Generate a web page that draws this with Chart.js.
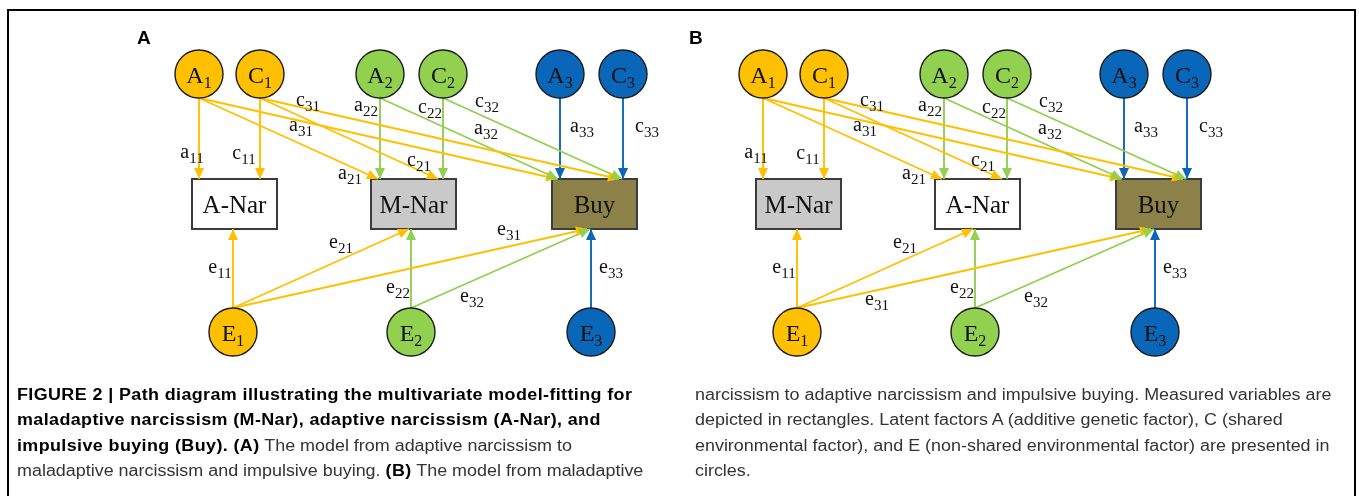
<!DOCTYPE html>
<html lang="en">
<head>
<meta charset="UTF-8">
<title>Figure 2 path diagram</title>
<script src="https://cdn.jsdelivr.net/npm/chart.js"></script>
<style>
  body { margin: 0; background: #fff; width: 1359px; height: 496px; overflow: hidden; position: relative;
         font-family: "Liberation Sans", Arial, sans-serif; }
  #frame { position: absolute; left: 7px; top: 9px; width: 1349px; height: 600px; box-sizing: border-box;
           border: 2px solid #000; border-bottom: none; }
  #diagram { position: absolute; left: 0; top: 0; }
  .panel { position: absolute; top: 27px; font-weight: bold; font-size: 19px; color: #000; }
  .caption { position: absolute; top: 382px; font-size: 16px; line-height: 25.3px; white-space: nowrap; color: #333;
             transform: scaleX(1.12); transform-origin: 0 0; }
  .caption b { color: #000; letter-spacing: 0.35px; }
</style>
</head>
<body>
<div id="frame"></div>
<canvas id="diagram" width="1359" height="496"></canvas>
<div class="panel" style="left:137px">A</div>
<div class="panel" style="left:689px">B</div>
<div class="caption" style="left:17px">
  <b>FIGURE 2 | Path diagram illustrating the multivariate model-fitting for</b><br>
  <b>maladaptive narcissism (M-Nar), adaptive narcissism (A-Nar), and</b><br>
  <b>impulsive buying (Buy). (A)</b> The model from adaptive narcissism to<br>
  maladaptive narcissism and impulsive buying. <b>(B)</b> The model from maladaptive
</div>
<div class="caption" style="left:695px">
  narcissism to adaptive narcissism and impulsive buying. Measured variables are<br>
  depicted in rectangles. Latent factors A (additive genetic factor), C (shared<br>
  environmental factor), and E (non-shared environmental factor) are presented in<br>
  circles.
</div>

<script>
// latent factors (panel A layout; panel B is the same layout shifted right)
const factorNames = ['A1', 'C1', 'A2', 'C2', 'A3', 'C3', 'E1', 'E2', 'E3'];
const factorX = [199, 260, 380, 443, 560, 623, 233, 411, 591];
const factorY = [74, 74, 74, 74, 74, 74, 332, 332, 332];
const factorGroup = [0, 0, 1, 1, 2, 2, 0, 1, 2];

// measured variables
const boxNamesA = ['A-Nar', 'M-Nar', 'Buy'];
const boxNamesB = ['M-Nar', 'A-Nar', 'Buy'];
const boxX = [234.5, 413.5, 594.5];
const boxY = 204;

const panelShift = [0, 564];

// paths: label, source factor, x where the arrow meets the box
const pathLabels = ['a11', 'c11', 'a21', 'c21', 'a31', 'c31', 'a22', 'c22', 'a32', 'c32', 'a33', 'c33',
                    'e11', 'e21', 'e31', 'e22', 'e32', 'e33'];
const pathFrom = [0, 1, 0, 1, 0, 1, 2, 3, 2, 3, 4, 5, 6, 6, 6, 7, 7, 8];
const pathEndX = [199, 260, 378, 438, 557, 619, 380, 443, 558, 622, 560, 623, 233, 409, 587, 411, 590, 591];
const labelX = [192, 244, 350, 419, 301, 308, 366, 430, 486, 487, 582, 647, 220, 341, 509, 398, 472, 611];
const labelY = [156, 157, 177, 164, 129, 104, 109, 111, 132, 105, 130, 130, 271, 246, 233, 291, 300, 271];
const labelMoveB = { e31: [313, 303] };

const palette = ['#FFC000', '#92D050', '#0A66B8'];
const boxFill = { 'A-Nar': '#ffffff', 'M-Nar': '#C9C9C9', 'Buy': '#8C8148' };
const R = 24, boxW = 85, boxH = 50;
const serif = '"Liberation Serif", "Times New Roman", serif';

const datasets = [];
panelShift.forEach(dx => {
  pathLabels.forEach((lab, i) => {
    const f = pathFrom[i];
    const down = factorY[f] < boxY;
    datasets.push({
      type: 'scatter',
      showLine: true,
      data: [
        { x: factorX[f] + dx, y: down ? factorY[f] + R : factorY[f] - R },
        { x: pathEndX[i] + dx, y: down ? boxY - boxH / 2 : boxY + boxH / 2 }
      ],
      borderColor: palette[factorGroup[f]],
      borderWidth: 1.9,
      pointRadius: 0,
      clip: false,
      order: 2
    });
  });
  datasets.push({
    type: 'scatter',
    data: factorNames.map((n, i) => ({ x: factorX[i] + dx, y: factorY[i] })),
    backgroundColor: factorGroup.map(g => palette[g]),
    borderColor: '#1b1b1b',
    borderWidth: 1.4,
    pointRadius: R,
    pointHoverRadius: R,
    clip: false,
    order: 0,
    isFactors: true
  });
});

function subText(ctx, main, sub, cx, base, mainPx, subPx, drop) {
  ctx.font = mainPx + 'px ' + serif;
  const w1 = ctx.measureText(main).width;
  ctx.font = subPx + 'px ' + serif;
  const w2 = ctx.measureText(sub).width;
  const left = cx - (w1 + w2) / 2;
  ctx.textAlign = 'left';
  ctx.textBaseline = 'alphabetic';
  ctx.fillStyle = '#111';
  ctx.font = mainPx + 'px ' + serif;
  ctx.fillText(main, left, base);
  ctx.font = subPx + 'px ' + serif;
  ctx.fillText(sub, left + w1, base + drop);
}

const diagramPlugin = {
  id: 'pathDiagram',
  beforeDatasetsDraw(chart) {
    const { ctx, scales: { x, y } } = chart;
    ctx.save();
    panelShift.forEach((dx, p) => {
      const names = p === 0 ? boxNamesA : boxNamesB;
      names.forEach((name, i) => {
        const l = x.getPixelForValue(boxX[i] + dx - boxW / 2);
        const r = x.getPixelForValue(boxX[i] + dx + boxW / 2);
        const t = y.getPixelForValue(boxY - boxH / 2);
        const b = y.getPixelForValue(boxY + boxH / 2);
        ctx.fillStyle = boxFill[name];
        ctx.fillRect(l, t, r - l, b - t);
        ctx.strokeStyle = '#3c3c3c';
        ctx.lineWidth = 2;
        ctx.strokeRect(l, t, r - l, b - t);
        ctx.fillStyle = '#111';
        ctx.font = '25px ' + serif;
        ctx.textAlign = 'center';
        ctx.textBaseline = 'alphabetic';
        ctx.fillText(name, (l + r) / 2, (t + b) / 2 + 9);
      });
    });
    ctx.restore();
  },
  afterDatasetsDraw(chart) {
    const { ctx, scales: { x, y } } = chart;
    ctx.save();
    chart.data.datasets.forEach((ds, di) => {
      const pts = chart.getDatasetMeta(di).data;
      if (ds.isFactors) {
        pts.forEach((pt, i) => {
          const n = factorNames[i];
          subText(ctx, n[0], n.slice(1), pt.x, pt.y + 9, 24, 16, 5);
        });
      } else {
        // arrow head at the box end
        const a = pts[0], b = pts[1];
        const ang = Math.atan2(b.y - a.y, b.x - a.x);
        const len = 11, half = 5;
        ctx.fillStyle = ds.borderColor;
        ctx.beginPath();
        ctx.moveTo(b.x, b.y);
        ctx.lineTo(b.x - len * Math.cos(ang) + half * Math.sin(ang), b.y - len * Math.sin(ang) - half * Math.cos(ang));
        ctx.lineTo(b.x - len * Math.cos(ang) - half * Math.sin(ang), b.y - len * Math.sin(ang) + half * Math.cos(ang));
        ctx.closePath();
        ctx.fill();
      }
    });
    panelShift.forEach((dx, p) => {
      pathLabels.forEach((lab, i) => {
        let lx = labelX[i], ly = labelY[i];
        if (p === 1 && labelMoveB[lab]) [lx, ly] = labelMoveB[lab];
        subText(ctx, lab[0], lab.slice(1), x.getPixelForValue(lx + dx), y.getPixelForValue(ly) + 2, 20, 15, 5);
      });
    });
    ctx.restore();
  }
};

new Chart(document.getElementById('diagram'), {
  type: 'scatter',
  data: { datasets },
  options: {
    responsive: false,
    animation: false,
    events: [],
    layout: { padding: 0, autoPadding: false },
    scales: {
      x: { type: 'linear', min: 0, max: 1359, display: false },
      y: { type: 'linear', min: 0, max: 496, reverse: true, display: false }
    },
    plugins: { legend: { display: false }, tooltip: { enabled: false } }
  },
  plugins: [diagramPlugin]
});
</script>
</body>
</html>
